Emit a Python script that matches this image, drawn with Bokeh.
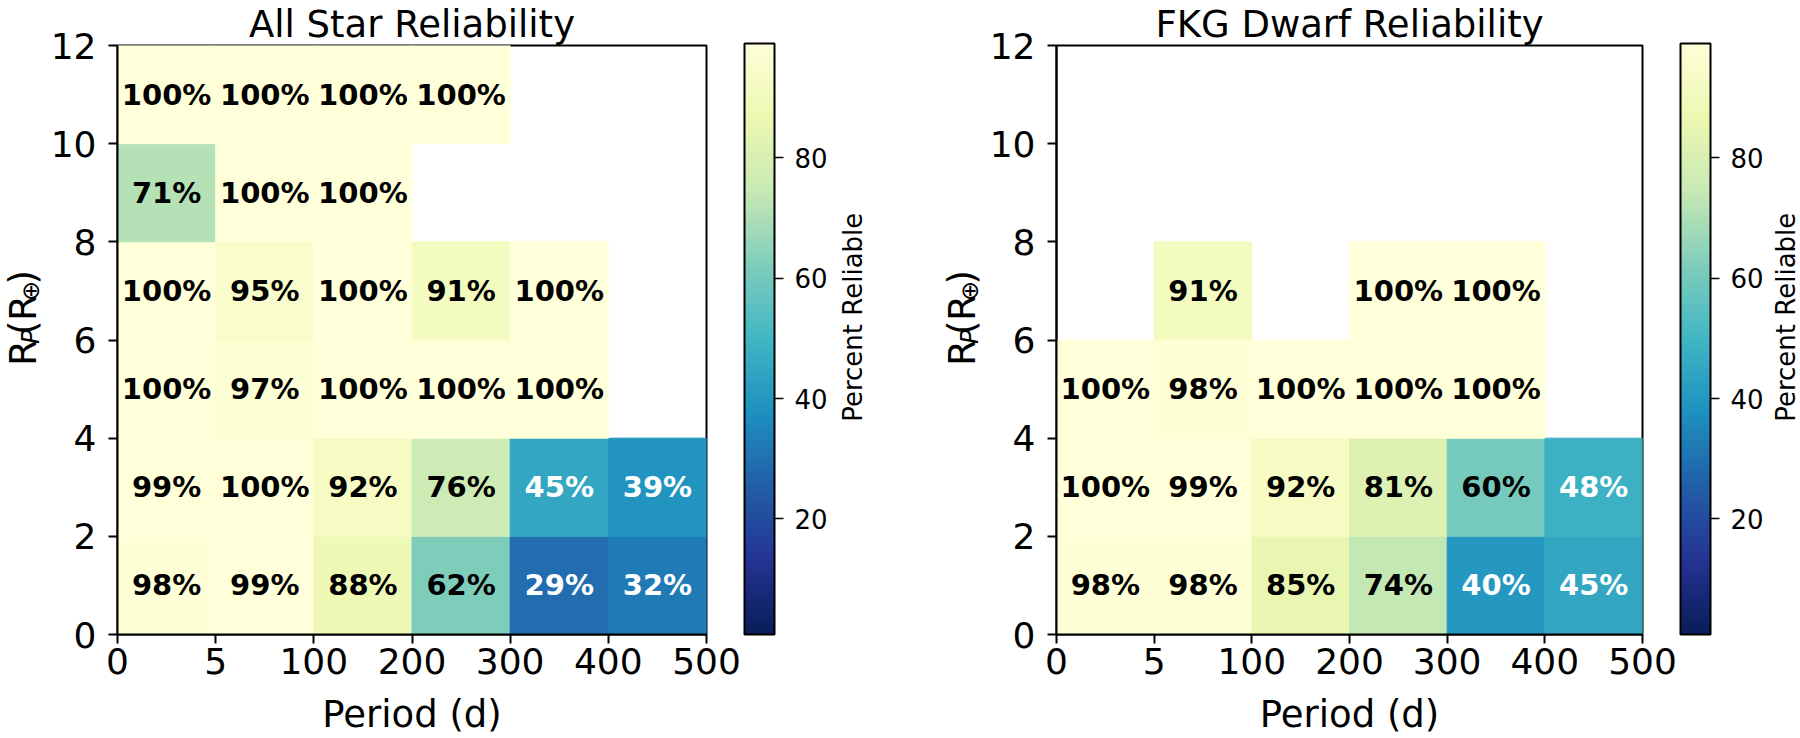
import numpy as np
from bokeh.plotting import figure
from bokeh.models import (ColumnDataSource, LinearColorMapper, ColorBar, FixedTicker, Range1d)
from bokeh.layouts import row
from bokeh.embed import file_html
from bokeh.resources import INLINE
from bokeh.core.properties import value

# ---------------- data ----------------
period_edges = ["0", "5", "100", "200", "300", "400", "500"]
radius_edges = [0, 2, 4, 6, 8, 10, 12]
nan = float("nan")
# rows: radius bins from bottom (0-2) to top (10-12); columns: period bins
all_star = [
    [98, 99, 88, 62, 29, 32],
    [99, 100, 92, 76, 45, 39],
    [100, 97, 100, 100, 100, nan],
    [100, 95, 100, 91, 100, nan],
    [71, 100, 100, nan, nan, nan],
    [100, 100, 100, 100, nan, nan],
]
fkg_dwarf = [
    [98, 98, 85, 74, 40, 45],
    [100, 99, 92, 81, 60, 48],
    [100, 98, 100, 100, 100, nan],
    [nan, 91, nan, 100, 100, nan],
    [nan, nan, nan, nan, nan, nan],
    [nan, nan, nan, nan, nan, nan],
]
titles = ["All Star Reliability", "FKG Dwarf Reliability"]
x_label = "Period (d)"
cbar_label = "Percent Reliable"
cbar_ticks = [20, 40, 60, 80]
cbar_low, cbar_high = 0.8, 99.0

FONT = "DejaVu Sans"

# YlGnBu (dark -> light), interpolated to 256 steps
ylgnbu = ['#081d58', '#253494', '#225ea8', '#1d91c0', '#41b6c4',
          '#7fcdbb', '#c7e9b4', '#edf8b1', '#ffffd9']
rgb = np.array([[int(c[i:i + 2], 16) for i in (1, 3, 5)] for c in ylgnbu], dtype=float)
t = np.linspace(0, len(ylgnbu) - 1, 256)
chan = [np.interp(t, np.arange(len(ylgnbu)), rgb[:, k]) for k in range(3)]
palette = ["#%02x%02x%02x" % (int(round(r)), int(round(g)), int(round(b)))
           for r, g, b in zip(*chan)]

# layout constants (pixels)
H = 738
FRAME = 591
TOP = 45
BOTTOM = H - TOP - FRAME


def make_panel(grid, title, fig_w, border_l):
    left, right, bottom, top, xs, ys, vals, labels, colors = ([] for _ in range(9))
    for r, rowvals in enumerate(grid):
        for c, v in enumerate(rowvals):
            if v != v:
                continue
            left.append(c)
            right.append(c + 1)
            bottom.append(radius_edges[r])
            top.append(radius_edges[r + 1])
            xs.append(c + 0.5)
            ys.append((radius_edges[r] + radius_edges[r + 1]) / 2)
            vals.append(v)
            labels.append("%d%%" % v)
            colors.append("white" if v < 50 else "black")
    src = ColumnDataSource(dict(left=left, right=right, bottom=bottom, top=top,
                                x=xs, y=ys, v=vals, label=labels, color=colors))

    mapper = LinearColorMapper(palette=palette, low=cbar_low, high=cbar_high)

    p = figure(width=fig_w, height=H,
               x_range=Range1d(0, len(period_edges) - 1),
               y_range=Range1d(radius_edges[0], radius_edges[-1]),
               min_border_left=border_l, min_border_top=TOP,
               min_border_right=fig_w - border_l - FRAME,
               min_border_bottom=BOTTOM,
               output_backend="svg", toolbar_location=None)
    p.background_fill_color = "white"
    p.border_fill_color = "white"
    p.grid.visible = False
    p.outline_line_color = "black"
    p.outline_line_width = 2
    p.outline_line_alpha = 1

    p.title.text = title
    p.title.align = "center"
    p.title.text_font = FONT
    p.title.text_font_size = "37px"
    p.title.text_font_style = "normal"
    p.title.text_color = "black"
    p.title.standoff = 0

    p.quad(left="left", right="right", bottom="bottom", top="top", source=src,
           fill_color={"field": "v", "transform": mapper},
           line_color={"field": "v", "transform": mapper}, line_width=1)
    p.text(x="x", y="y", text="label", source=src, text_color="color",
           text_font=value(FONT), text_font_style="bold", text_font_size="29px",
           text_align="center", text_baseline="middle")

    p.xaxis.ticker = FixedTicker(ticks=list(range(len(period_edges))))
    p.xaxis.major_label_overrides = {i: s for i, s in enumerate(period_edges)}
    p.yaxis.ticker = FixedTicker(ticks=radius_edges)
    for ax in p.axis:
        ax.major_label_text_font = FONT
        ax.major_label_text_font_size = "36px"
        ax.major_label_text_color = "black"
        ax.major_tick_in = 0
        ax.major_tick_out = 9
        ax.major_tick_line_width = 2
        ax.major_tick_line_color = "black"
        ax.minor_tick_line_color = None
        ax.axis_line_width = 2
        ax.axis_line_color = "black"
        ax.axis_label_text_font = FONT
        ax.axis_label_text_font_style = "normal"
        ax.axis_label_text_font_size = "37px"
        ax.axis_label_text_color = "black"
    p.xaxis.major_label_standoff = 4
    p.xaxis.axis_label = x_label
    p.xaxis.axis_label_standoff = 16
    p.yaxis.major_label_standoff = 12

    cb = ColorBar(color_mapper=mapper, ticker=FixedTicker(ticks=cbar_ticks),
                  width=30, height=FRAME, padding=0, margin=0, location=(38, 0),
                  major_label_text_font=FONT, major_label_text_font_size="26px",
                  major_label_text_color="black",
                  major_tick_in=0, major_tick_out=9, major_tick_line_color="black",
                  major_tick_line_width=1.5, bar_line_color="black", bar_line_width=2,
                  label_standoff=11, background_fill_color=None, border_line_color=None)
    p.add_layout(cb, "right")
    return p


def holder(width, page_left, items):
    """A blank strip whose data coordinates are page pixels (y measured upward from the bottom).
    Each item is centred (middle/center) at its point and rotated to read upward."""
    h = figure(width=width, height=H, x_range=Range1d(0, width), y_range=Range1d(0, H),
               min_border=0, x_axis_location=None, y_axis_location=None,
               output_backend="svg", toolbar_location=None)
    h.outline_line_color = None
    h.grid.visible = False
    h.background_fill_color = "white"
    h.border_fill_color = "white"
    if items:
        d = dict(x=[i[0] - page_left for i in items], y=[H - i[1] for i in items],
                 text=[i[2] for i in items], size=["%dpx" % i[3] for i in items],
                 style=[i[4] for i in items])
        h.text(x="x", y="y", text="text", source=ColumnDataSource(d), angle=np.pi / 2,
               text_font=value(FONT), text_font_size="size", text_font_style="style",
               text_align="center", text_baseline="middle", text_color="black")
    return h


MID = (0.928 - 0.236) / 2   # distance from baseline to box middle, in em


def centred(base_x, center_y, text, size, style="normal"):
    return (base_x - MID * size, center_y, text, size, style)


def ylabel_items(base_x, center_y):
    """R_P(R_⊕) built from pieces, reading upward; base_x = page x of the baseline."""
    big, small = 37, 24
    pieces = [("R", big, "normal", 0, 0.695), ("P", small, "italic", 3, 0.603),
              ("(R", big, "normal", 0, 1.085), ("\u2295", small, "normal", 3, 0.838),
              (")", big, "normal", 0, 0.39)]
    total = sum(sz * w for _, sz, _, _, w in pieces)
    y = center_y + total / 2
    out = []
    for txt, sz, st, shift, w in pieces:
        out.append(centred(base_x + shift, y - sz * w / 2, txt, sz, st))
        y -= sz * w
    return out


mid_y = TOP + FRAME / 2
# strip 0: 0..47 | panel 1: 47..830 | strip 1: 830..986 | panel 2: 986..1766 | strip 2: 1766..1800
s0 = holder(47, 0, ylabel_items(36, mid_y))
p1 = make_panel(all_star, titles[0], 783, 69)
s1 = holder(156, 830, [centred(861, mid_y, cbar_label, 26)] + ylabel_items(975, mid_y))
p2 = make_panel(fkg_dwarf, titles[1], 780, 69)
s2 = holder(34, 1766, [centred(1794, mid_y, cbar_label, 26)])

layout = row(s0, p1, s1, p2, s2)

open("out.html", "w").write(file_html(layout, INLINE))
